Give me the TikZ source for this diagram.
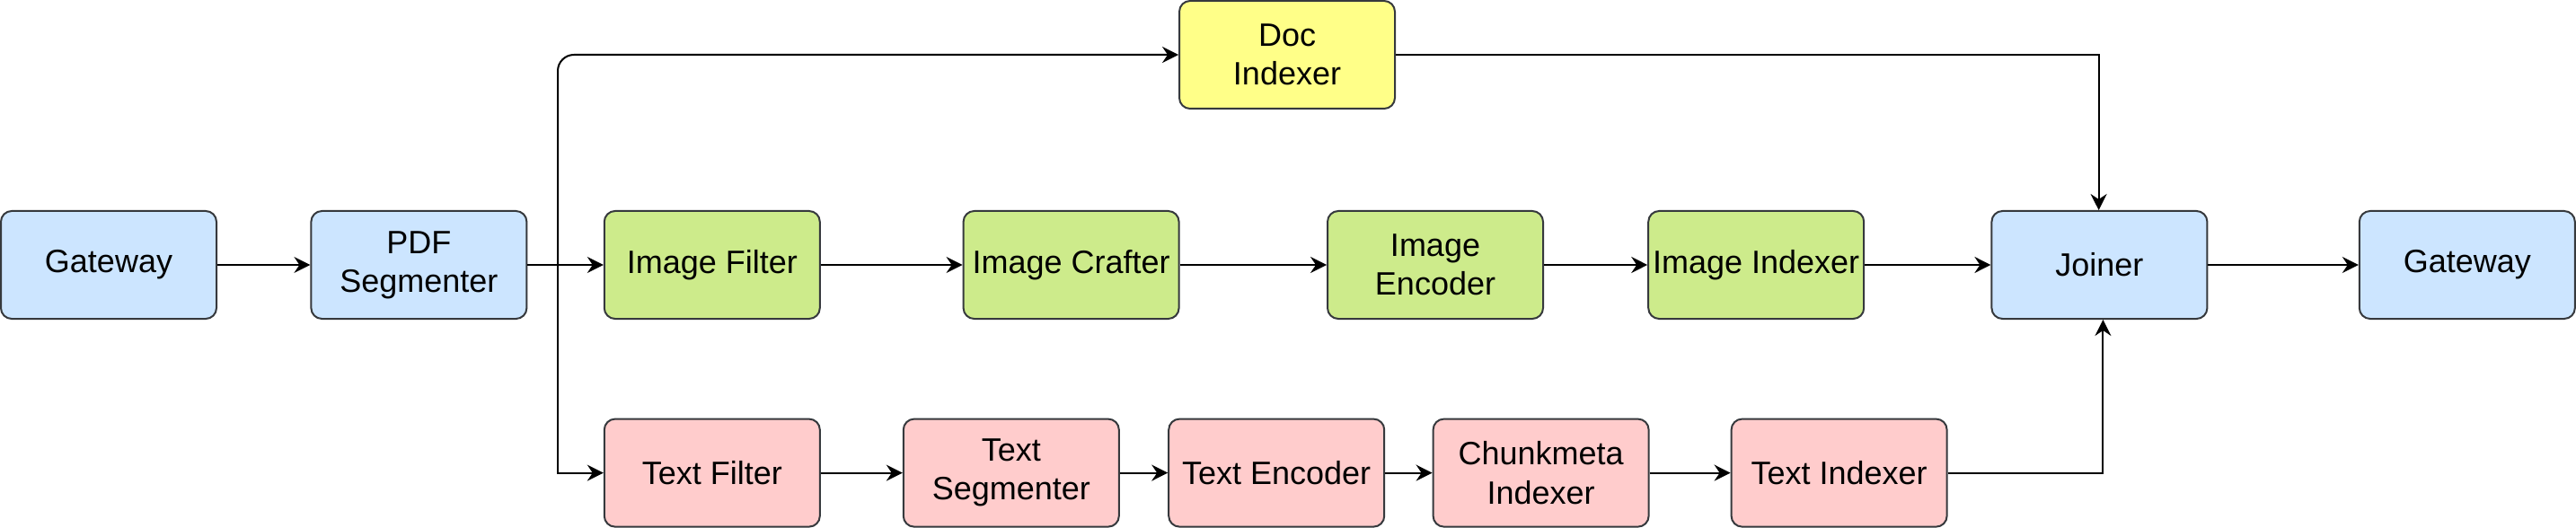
\documentclass[tikz,border=0pt]{standalone}
\usepackage{fontspec}
\setmainfont{Liberation Sans}
\usetikzlibrary{arrows.meta}
\definecolor{cblue}{HTML}{CCE5FF}
\definecolor{cgreen}{HTML}{CDEB8B}
\definecolor{cyellow}{HTML}{FFFF88}
\definecolor{cred}{HTML}{FFCCCC}
\definecolor{cstroke}{HTML}{36393D}
\tikzset{
  box/.style={draw=cstroke, line width=1pt, rounded corners=6pt,
    minimum width=120pt, minimum height=60pt, inner sep=0pt,
    align=center, font=\fontsize{18}{21.6}\selectfont, text=black},
  bluebox/.style={box, fill=cblue},
  greenbox/.style={box, fill=cgreen},
  yellowbox/.style={box, fill=cyellow},
  redbox/.style={box, fill=cred},
  arr/.style={line width=1pt, draw=black,
    -{Stealth[length=9pt, width=9pt, inset=3pt]}},
}
\begin{document}
\begin{tikzpicture}[x=1pt, y=-1pt]
\useasboundingbox (0,0) rectangle (1434,294);
% nodes
\node[bluebox]   (gw1)  at (60.5,147.5)  {Gateway};
\node[bluebox]   (pdf)  at (233.2,147.5) {PDF\\Segmenter};
\node[greenbox]  (imf)  at (396.4,147.5) {Image Filter};
\node[greenbox]  (imc)  at (596.3,147.5) {Image Crafter};
\node[greenbox]  (ime)  at (799,147.5)   {Image\\Encoder};
\node[greenbox]  (imi)  at (977.6,147.5) {Image Indexer};
\node[bluebox]   (join) at (1168.7,147.5) {Joiner};
\node[bluebox]   (gw2)  at (1373.4,147.5) {Gateway};
\node[yellowbox] (doc)  at (716.5,30.5)  {Doc\\Indexer};
\node[redbox]    (txf)  at (396.4,263.3) {Text Filter};
\node[redbox]    (txs)  at (562.9,263.3) {Text\\Segmenter};
\node[redbox]    (txe)  at (710.6,263.3) {Text Encoder};
\node[redbox]    (chk)  at (857.8,263.3) {Chunkmeta\\Indexer};
\node[redbox]    (txi)  at (1023.8,263.3) {Text Indexer};
\coordinate (br) at (310.5,147.5);
% edges
\draw[arr] (gw1) -- (pdf);
\draw[arr] (pdf) -- (imf);
\draw[arr, rounded corners=9pt] (br) |- (doc.west);
\draw[arr] (br) |- (txf.west);
\draw[arr] (imf) -- (imc);
\draw[arr] (imc) -- (ime);
\draw[arr] (ime) -- (imi);
\draw[arr] (imi) -- (join);
\draw[arr] (join) -- (gw2);
\draw[arr] (doc.east) -| ([xshift=-0.4pt]join.north);
\draw[arr] (txf) -- (txs);
\draw[arr] (txs) -- (txe);
\draw[arr] (txe) -- (chk);
\draw[arr] (chk) -- (txi);
\draw[arr] (txi.east) -| ([xshift=2pt]join.south);
\end{tikzpicture}
\end{document}
